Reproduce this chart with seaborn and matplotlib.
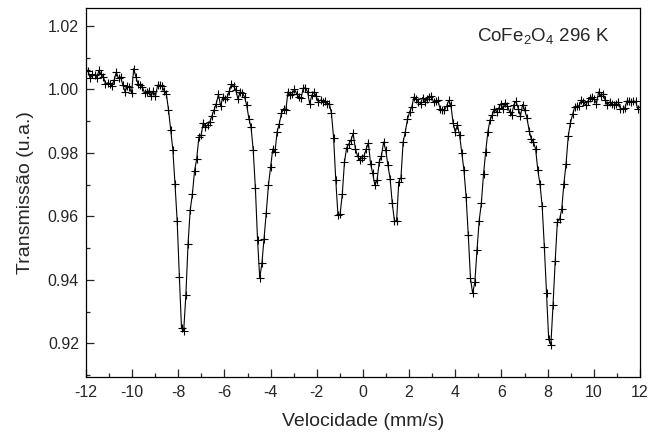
import numpy as np
import pandas as pd
import matplotlib
matplotlib.use("Agg")
import matplotlib.pyplot as plt
from matplotlib.ticker import MultipleLocator
import seaborn as sns

# Mössbauer spectrum of CoFe2O4 at 296 K (256 channels from -12 to 12 mm/s)
transmission = [
    1.0062, 1.0058, 1.0034, 1.0047, 1.0045, 1.0037, 1.0060, 1.0047, 1.0039, 1.0018,
    1.0020, 1.0018, 1.0009, 1.0030, 1.0054, 1.0034, 1.0039, 1.0013, 0.9992, 1.0009,
    1.0007, 0.9988, 1.0065, 1.0039, 1.0016, 1.0015, 1.0007, 0.9988, 0.9992, 0.9995,
    0.9978, 0.9995, 0.9978, 1.0013, 1.0013, 1.0010, 0.9995, 0.9986, 0.9936, 0.9873,
    0.9810, 0.9701, 0.9585, 0.9410, 0.9247, 0.9240, 0.9352, 0.9513, 0.9620, 0.9670,
    0.9743, 0.9782, 0.9850, 0.9855, 0.9894, 0.9881, 0.9887, 0.9897, 0.9916, 0.9934,
    0.9955, 0.9984, 0.9947, 0.9975, 0.9970, 0.9975, 0.9994, 1.0016, 1.0010, 0.9997,
    0.9968, 0.9992, 0.9988, 0.9976, 0.9950, 0.9908, 0.9881, 0.9808, 0.9688, 0.9525,
    0.9405, 0.9452, 0.9530, 0.9611, 0.9698, 0.9756, 0.9812, 0.9802, 0.9866, 0.9892,
    0.9924, 0.9939, 0.9934, 0.9992, 0.9981, 0.9986, 1.0000, 0.9986, 0.9976, 0.9971,
    1.0003, 1.0005, 0.9992, 0.9955, 0.9981, 0.9992, 0.9978, 0.9960, 0.9966, 0.9960,
    0.9963, 0.9955, 0.9955, 0.9925, 0.9847, 0.9714, 0.9604, 0.9607, 0.9670, 0.9771,
    0.9816, 0.9828, 0.9840, 0.9861, 0.9813, 0.9790, 0.9777, 0.9784, 0.9790, 0.9812,
    0.9831, 0.9766, 0.9735, 0.9698, 0.9714, 0.9771, 0.9789, 0.9834, 0.9808, 0.9761,
    0.9719, 0.9641, 0.9586, 0.9586, 0.9709, 0.9722, 0.9834, 0.9866, 0.9905, 0.9929,
    0.9945, 0.9976, 0.9968, 0.9960, 0.9955, 0.9974, 0.9960, 0.9968, 0.9976, 0.9978,
    0.9960, 0.9963, 0.9965, 0.9939, 0.9936, 0.9934, 0.9947, 0.9965, 0.9950, 0.9894,
    0.9866, 0.9887, 0.9855, 0.9800, 0.9745, 0.9660, 0.9540, 0.9405, 0.9357, 0.9392,
    0.9493, 0.9586, 0.9641, 0.9732, 0.9803, 0.9866, 0.9903, 0.9918, 0.9939, 0.9929,
    0.9941, 0.9955, 0.9939, 0.9958, 0.9948, 0.9929, 0.9920, 0.9952, 0.9962, 0.9939,
    0.9916, 0.9952, 0.9934, 0.9910, 0.9870, 0.9843, 0.9834, 0.9811, 0.9745, 0.9701,
    0.9632, 0.9504, 0.9359, 0.9213, 0.9195, 0.9321, 0.9460, 0.9583, 0.9590, 0.9622,
    0.9703, 0.9766, 0.9852, 0.9894, 0.9921, 0.9944, 0.9947, 0.9948, 0.9965, 0.9960,
    0.9950, 0.9963, 0.9971, 0.9976, 0.9968, 0.9955, 0.9992, 0.9979, 0.9985, 0.9966,
    0.9950, 0.9960, 0.9955, 0.9950, 0.9955, 0.9960, 0.9939, 0.9939, 0.9940, 0.9963,
    0.9963, 0.9960, 0.9963, 0.9962, 0.9939, 0.9944,
]
velocity_range = (-12, 12)
x_ticks = [-12, -10, -8, -6, -4, -2, 0, 2, 4, 6, 8, 10, 12]
y_ticks = [0.92, 0.94, 0.96, 0.98, 1.00, 1.02]
y_tick_labels = ["0.92", "0.94", "0.96", "0.98", "1.00", "1.02"]
sample_label = r"CoFe$_2$O$_4$ 296 K"

velocity = np.linspace(velocity_range[0], velocity_range[1], len(transmission))
df = pd.DataFrame({"v": velocity, "t": transmission})

sns.set_style("ticks")
plt.rcParams["font.family"] = ["Liberation Sans", "DejaVu Sans"]
plt.rcParams["mathtext.fontset"] = "custom"
plt.rcParams["mathtext.rm"] = "Liberation Sans"
plt.rcParams["mathtext.it"] = "Liberation Sans"
plt.rcParams["mathtext.default"] = "regular"

fig = plt.figure(figsize=(6.51, 4.37), dpi=100)
ax = fig.add_axes([0.132, 0.138, 0.851, 0.843])

sns.lineplot(data=df, x="v", y="t", sort=False, estimator=None, color="black",
             linewidth=0.8, marker="+", markersize=6, markeredgewidth=0.8,
             markeredgecolor="black", ax=ax)

ax.set_xlim(*velocity_range)
ax.set_ylim(0.9095, 1.0255)
ax.set_xticks(x_ticks)
ax.set_xticklabels([str(t) for t in x_ticks])
ax.set_yticks(y_ticks)
ax.set_yticklabels(y_tick_labels)
ax.xaxis.set_minor_locator(MultipleLocator(1))
ax.yaxis.set_minor_locator(MultipleLocator(0.01))
ax.tick_params(which="major", direction="in", length=6, width=0.9, labelsize=11.5,
               top=False, right=False)
ax.tick_params(axis="x", which="major", pad=6)
ax.tick_params(axis="y", which="major", pad=5)
ax.tick_params(which="minor", direction="in", length=3, width=0.9,
               top=False, right=False)
for s in ax.spines.values():
    s.set_linewidth(0.9)
    s.set_color("black")

ax.set_xlabel("Velocidade (mm/s)", fontsize=14, labelpad=9)
ax.set_ylabel("Transmissão (u.a.)", fontsize=14, labelpad=10)
ax.text(0.705, 0.925, sample_label, transform=ax.transAxes, fontsize=13.5,
        ha="left", va="center")

fig.savefig("out.png", dpi=100)
